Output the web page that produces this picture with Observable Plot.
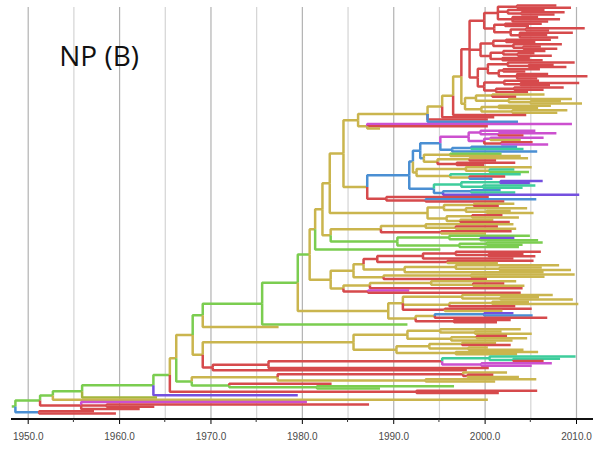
<!DOCTYPE html>
<html>
<head>
<meta charset="utf-8">
<script src="https://cdn.jsdelivr.net/npm/d3@7"></script>
<script src="https://cdn.jsdelivr.net/npm/@observablehq/plot@0.6"></script>
<style>
  body { margin: 0; background: #fff; }
  #chart { width: 599px; height: 454px; }
</style>
</head>
<body>
<div id="chart"></div>
<script>
// ---- Labels and axis ticks ----
const title = "NP (B)";
const decadeYears = [1950, 1960, 1970, 1980, 1990, 2000, 2010];
const halfDecadeYears = [1955, 1965, 1975, 1985, 1995, 2005];

// ---- Branch colours (one letter per lineage) ----
const lineageColors = {
  r: "#d64a4c", // red
  y: "#cab54e", // yellow / olive
  g: "#7bcd50", // green
  b: "#4a8fd3", // blue
  m: "#cc50cf", // magenta
  p: "#7450df", // purple
  t: "#3ecd9c", // teal
  o: "#a5b63d"  // olive green
};

// ---- Tree clades: "(child,child)YEARc", every node labelled by its date and lineage letter ----
const cladeRedTop =
  "((((2007.8r,2009.4r)2003.5r,(2006.5r,(2008.7r,2007.6r)2004r)2002.5r,(2005.8r,2008.2r,2006.9r)2003r)2001.4r," +
  "((2006.2r,2004.8r)2002.2r,((2010.9r,2007r)2004.5r,(2009.6r,2006.8r,2008r)2003.8r)2002.8r)2001r)1999.9r," +
  "(((2007.2r,2005.5r)2002.3r,(2008.4r,(2006.1r,2007.9r)2004.2r)2003.1r)2000.9r," +
  "((2006.6r,(2005.4r,2007.3r)2003.6r)2002r,(2004.9r,2006.3r)2001.9r)2000.6r)1999.5r," +
  "(((2009.8r,(2007.5r,2008.9r)2004.8r)2002.5r,((2006r,2004.4r)2002r,(2006.9r,2011.2r,2005.7r)2003.5r)2001.5r)2000.3r," +
  "((2005.9r,(2010.3r,2007.1r)2003.9r)2002.1r,((2008.6r,2006.4r)2003.2r,2004.7r)2001.2r)1999.9r)1999.2r)1998.3r";

const cladeYellowTop =
  "(((2006.5y,2003.4r)2000.8y,(2009.5y,(2008.3y,2010.6y)2005y)2002.6y)1999y," +
  "((2007.2y,2005.8y)2001.5y,(2009y,2007.9y)2003y)1999.6y)1997.8y";

const cladeMagenta =
  "((2005.5m,(2007.8m,2004.2r)2001.5m)1999.5m,((2006.4m,2003.9y)2000.6m,(2005.2r,2006.9m)2001.8r)1999.9m)1998.2m";
const cladeBlueInner = "((2003.5b,2004.2t)1998.5b,2005.7b)1996.4b";
const cladeBlueMixed =
  "((2001.8g,2003.9y)1996.2y,((2004.7y,2001.2r)1998.3y,(2003.3r,1999.9r)1996.9r)1994.8y)1993.3b";
const cladeBlueYellow =
  "((2005.1y,(2003.2t,2004.8g)2000.5y)1997.9y,(2003.9t,(2002.2r,2000.8b)1998.3y)1996.2y)1992.5y";
const cladeTealPurple =
  "(((2006.3p,2004.9p)2001.7t,(2005.5t,2004.1t)1999.8t)1997.4t,((2001.7b,2003.3t)1998.5b,2010.3p)1995.4b)1994.4b";

const cladeMidYellow =
  "(((2003.2y,2001.5r)1998.8y,(2004.6y,(2002.8y,2005.3y)2000.2y)1997.9y)1995.5y," +
  "((2001.9r,2003.7y)1998.6y,(2000.9y,2002.7r)1997.3y)1995.8y)1993.7y";
const cladeMidMixed = "((2003.1y,(2001.4r,2003.4y)1996.8y)1993.5y,(2002.9r,2000.1y)1995.2r)1988.6y";
const cladeMidGreen = "((2004.9g,(2003.2p,2005.8g)1999.5g)1996.1g,((2006.3g,2004.1g)2000.2g,2003.7g)1997.2g)1990.4g";

const cladeLadder =
  "((((((2006.1r,(2004.2r,2005.5r)2000.4r)1996.8r,2003.1r)1993.2r,(2005.3r,2001.4y)1995.9r)1988.2r," +
  "((2008.1y,(2006.2y,2009.4y)2001.6y)1996.8y,2006.4y)1991.2y)1986.7y," +
  "((2009.8y,2006.5y)1998.5y,2000.2r)1988.9y)1985.6y," +
  "(((2003.4y,(2002.1r,2004.3y)1998.7y)1994.1y,2004.1r)1987.4y,(1991.7m,2003.9r)1987.2r)1984.5y)1983.1y";

const cladeLowerYellow =
  "(((2007.4y,(2005.9y,2009.6y)2001.7y)1997.5y,((2004.8y,2010.2y)2000.8y,2003.3r)1996.1y,(2005.1r,2001.9y)1995.6r)1991y," +
  "(((2003.1p,2005.2b)1999.9b,2006.8r)1994.5y,(2002.8r,2001.3r)1996.6r)1992.4y)1989.4y";

const cladeLowYellow =
  "(((2003.9y,(2001.8y,2005.1y)1998.9y)1995.1y,((2002.4r,2004.6y)1999.1y,2003y)1996.3y)1991.5y," +
  "(((2001.2y,2002.8r)1997.5y,(2000.3y,2004.2y)1998.2y)1993.9y,(2005.8y,2003.5y)1996.8y)1990.3y)1985.6y";
const cladeLowRed =
  "((((2009.9t,(2008.2t,2006.4r)2003.1t)2000.5t,(2007.3m,2005.1m)1999.6m)1995.3r,2000.4r)1976.3r,1998r)1970.2r";
const cladeBase =
  "(((2002.4y,(2000.9r,2003.7y)1998.1r)1997.6r,(2005.6y,2001.1y)1993.5y)1977.3y,(1983.2r,(1996.6g,1988.5g)1981.6g)1972g)1967.9g";
const cladeEarlyRed = "(1980.5m,(1987.3r,1963.8r)1958.6r,1962.2r)1955.8r";
const cladeRootSide = "(1957.2r,1959.6r)1951.2b";

const rootOrigin = 1948.2;

// ---- Backbone assembled from the clades ----
const upperLadder = `((((${cladeRedTop},${cladeYellowTop})1997.4y,2004.5r)1996.5y,2001r)1995.3y,2000.3r,2003.6b)1993.7y`;
const upperArm = `(${upperLadder},(2009.5m,2000.3r,1988.5y)1987.1y)1986.1y`;
const blueGroup = `((((${cladeMagenta},${cladeBlueInner})1995.1b,${cladeBlueMixed})1992.9b,${cladeBlueYellow})1992.1b,${cladeTealPurple})1991.7b`;
const blueArm = `(${blueGroup},(2000.4r,(2005.6b,2002.1r)1993.5r)1989.2r)1987.1y`;
const node343 = `(${upperArm},${blueArm})1984.5y`;
const node329 = `(${node343},${cladeMidYellow})1983y`;
const node330 = `(${cladeMidMixed},${cladeMidGreen})1983.1y`;
const node322 = `(${node329},${node330})1982.2y`;
const node315 = `(${node322},1995.1g)1981.4y`;
const node309 = `(${node315},${cladeLadder})1980.8g`;
const node297 = `(${node309},${cladeLowerYellow})1979.5g`;
const node262 = `(${node297},1991.5g)1975.6g`;
const node202 = `(${node262},1977.4y)1969.1g`;
const node202b = `(${cladeLowYellow},${cladeLowRed})1969.1y`;
const node192 = `(${node202},${node202b})1968y`;
const node176 = `(${node192},${cladeBase})1966.2y`;
const node171 = `(${node176},(2005.7r,2001.5r)1992.5r)1965.5g`;
const node153 = `(${node171},1979.5p)1963.7g`;
const node82 = `(${node153},1964.1o)1955.9g`;
const node52 = `(${node82},2000.3y)1952.7g`;
const node40 = `(${node52},${cladeEarlyRed})1951.3g`;
const treeText = `(${node40},${cladeRootSide})1948.6g`;

// ---- Parse the notation into nodes ----
function parseTree(s) {
  let i = 0;
  function label() {
    const m = /^(\d+(?:\.\d+)?)([a-z])/.exec(s.slice(i));
    if (!m) throw new Error("bad label at " + i + ": " + s.slice(i, i + 20));
    i += m[0].length;
    return { t: +m[1], c: m[2], children: null };
  }
  function node() {
    let kids = null;
    if (s[i] === "(") {
      i++;
      kids = [node()];
      while (s[i] === ",") { i++; kids.push(node()); }
      if (s[i] !== ")") throw new Error("expected ) at " + i);
      i++;
    }
    const n = label();
    n.children = kids;
    return n;
  }
  const root = node();
  if (i !== s.length) throw new Error("trailing text at " + i);
  return root;
}

const root = parseTree(treeText);

// Leaves get consecutive rows; an internal node sits midway between its first and last child.
let leafCount = 0;
(function place(n) {
  if (!n.children) { n.y = leafCount++; return; }
  n.children.forEach(place);
  n.y = (n.children[0].y + n.children[n.children.length - 1].y) / 2;
})(root);

// One elbow per branch: along the parent's date, then across to the child's date.
const branches = [{ x1: rootOrigin, y1: root.y, x2: root.t, y2: root.y, c: root.c }];
(function collect(n) {
  if (!n.children) return;
  for (const ch of n.children) {
    branches.push({ x1: n.t, y1: n.y, x2: ch.t, y2: ch.y, c: ch.c });
    collect(ch);
  }
})(root);

// Axis baseline with half-decade ticks, placed with the x scale.
function axisBaseline(index, scales, values, dimensions) {
  const g = d3.create("svg:g");
  const y0 = dimensions.height - dimensions.marginBottom;
  g.append("line")
    .attr("x1", 11).attr("x2", 593)
    .attr("y1", y0).attr("y2", y0)
    .attr("stroke", "#111").attr("stroke-width", 2.2);
  g.selectAll(".minor").data(halfDecadeYears).join("line")
    .attr("x1", d => scales.x(d)).attr("x2", d => scales.x(d))
    .attr("y1", y0).attr("y2", y0 + 3)
    .attr("stroke", "#333").attr("stroke-width", 1);
  return g.node();
}

const chart = Plot.plot({
  width: 599,
  height: 454,
  marginLeft: 27.7,
  marginRight: 23,
  marginTop: 7,
  marginBottom: 35,
  style: { background: "#fff", fontFamily: "'Liberation Sans', Arial, sans-serif", overflow: "visible" },
  x: {
    domain: [1950, 2010],
    ticks: decadeYears,
    tickFormat: d => d.toFixed(1),
    tickSize: 5,
    tickPadding: 8,
    label: null
  },
  y: { domain: [0, leafCount - 1], range: [5, 413], axis: null },
  marks: [
    Plot.ruleX(halfDecadeYears, { stroke: "#d4d4d4", strokeWidth: 1.2 }),
    Plot.ruleX(decadeYears, { stroke: "#b2b2b2", strokeWidth: 1.2 }),
    Plot.link(branches, {
      x1: "x1", y1: "y1", x2: "x2", y2: "y2",
      stroke: d => lineageColors[d.c],
      strokeWidth: 2.5,
      curve: "step-before"
    }),
    axisBaseline,
    Plot.text([title], {
      frameAnchor: "top-left",
      dx: 31,
      dy: 58,
      lineAnchor: "bottom",
      textAnchor: "start",
      fontSize: 28,
      fontFamily: "'Open Sans', sans-serif",
      fill: "#111"
    })
  ]
});

chart.querySelectorAll("[aria-label='x-axis tick label'] text, [aria-label='x-axis tick label']").forEach(el => {
  el.setAttribute("fill", "#4a4a4a");
  el.setAttribute("font-size", "10");
});
document.getElementById("chart").append(chart);
</script>
</body>
</html>
